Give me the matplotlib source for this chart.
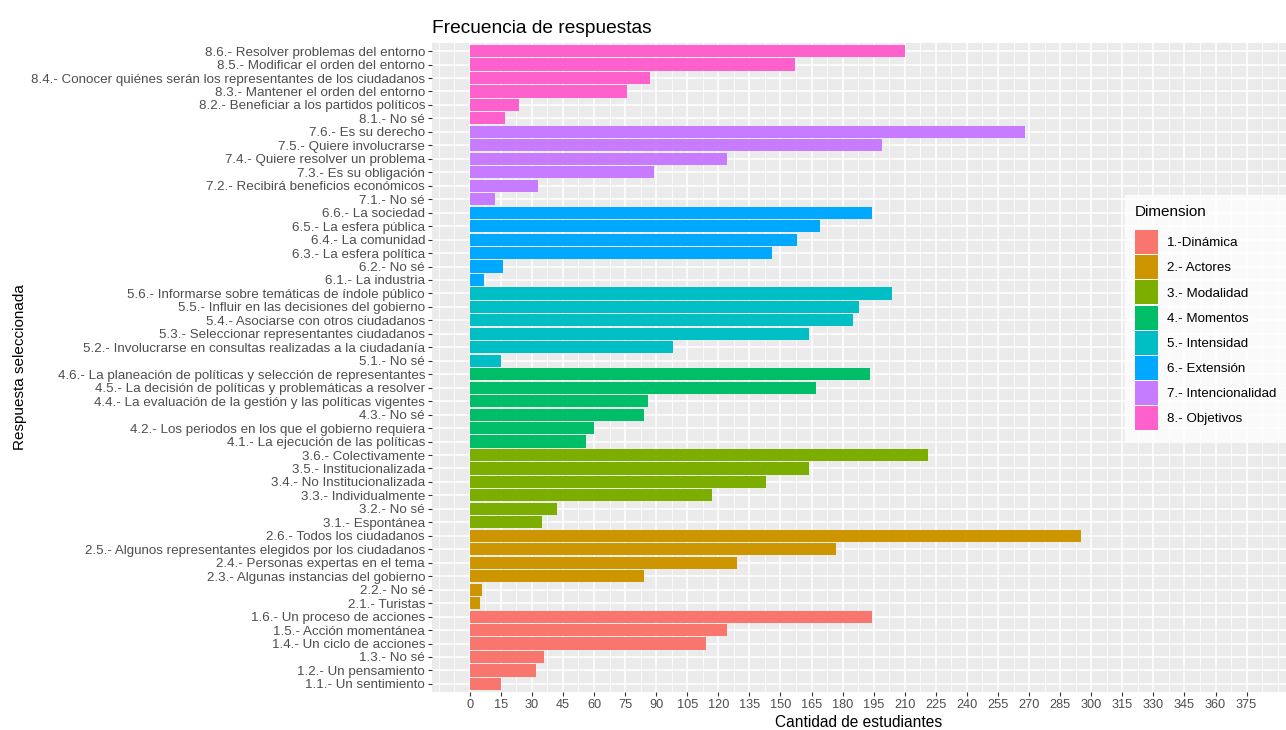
import matplotlib
matplotlib.use('Agg')
import matplotlib.pyplot as plt
from matplotlib.patches import Patch
from matplotlib.ticker import MultipleLocator

# Dimensiones y colores (paleta por defecto de ggplot)
dimensiones = ["1.-Dinámica", "2.- Actores", "3.- Modalidad", "4.- Momentos",
               "5.- Intensidad", "6.- Extensión", "7.- Intencionalidad", "8.- Objetivos"]
colores = ["#F8766D", "#CD9600", "#7CAE00", "#00BE67",
           "#00BFC4", "#00A9FF", "#C77CFF", "#FF61CC"]

# Respuestas de abajo hacia arriba
respuestas = [
    "1.1.- Un sentimiento", "1.2.- Un pensamiento", "1.3.- No sé",
    "1.4.- Un ciclo de acciones", "1.5.- Acción momentánea", "1.6.- Un proceso de acciones",
    "2.1.- Turistas", "2.2.- No sé", "2.3.- Algunas instancias del gobierno",
    "2.4.- Personas expertas en el tema", "2.5.- Algunos representantes elegidos por los ciudadanos",
    "2.6.- Todos los ciudadanos",
    "3.1.- Espontánea", "3.2.- No sé", "3.3.- Individualmente",
    "3.4.- No Institucionalizada", "3.5.- Institucionalizada", "3.6.- Colectivamente",
    "4.1.- La ejecución de las políticas", "4.2.- Los periodos en los que el gobierno requiera",
    "4.3.- No sé", "4.4.- La evaluación de la gestión y las políticas vigentes",
    "4.5.- La decisión de políticas y problemáticas a resolver",
    "4.6.- La planeación de políticas y selección de representantes",
    "5.1.- No sé", "5.2.- Involucrarse en consultas realizadas a la ciudadanía",
    "5.3.- Seleccionar representantes ciudadanos", "5.4.- Asociarse con otros ciudadanos",
    "5.5.- Influir en las decisiones del gobierno",
    "5.6.- Informarse sobre temáticas de índole público",
    "6.1.- La industria", "6.2.- No sé", "6.3.- La esfera política",
    "6.4.- La comunidad", "6.5.- La esfera pública", "6.6.- La sociedad",
    "7.1.- No sé", "7.2.- Recibirá beneficios económicos", "7.3.- Es su obligación",
    "7.4.- Quiere resolver un problema", "7.5.- Quiere involucrarse", "7.6.- Es su derecho",
    "8.1.- No sé", "8.2.- Beneficiar a los partidos políticos",
    "8.3.- Mantener el orden del entorno",
    "8.4.- Conocer quiénes serán los representantes de los ciudadanos",
    "8.5.- Modificar el orden del entorno", "8.6.- Resolver problemas del entorno",
]
cantidades = [
    15, 32, 36, 114, 124, 194,
    5, 6, 84, 129, 177, 295,
    35, 42, 117, 143, 164, 221,
    56, 60, 84, 86, 167, 193,
    15, 98, 164, 185, 188, 204,
    7, 16, 146, 158, 169, 194,
    12, 33, 89, 124, 199, 268,
    17, 24, 76, 87, 157, 210,
]
dim_idx = [int(r.split(".")[0]) - 1 for r in respuestas]

plt.rcParams['font.family'] = ['Liberation Sans', 'DejaVu Sans']

fig = plt.figure(figsize=(12.86, 7.30), dpi=100)
ax = fig.add_axes([432 / 1286, 1 - 692 / 730, 1 - 432 / 1286, (692 - 43) / 730])
ax.set_facecolor("#EBEBEB")

ypos = list(range(len(respuestas)))
ax.barh(ypos, cantidades, height=0.9, color=[colores[i] for i in dim_idx], zorder=3)

ax.set_xlim(-18.2, 394)
ax.set_ylim(-0.6, len(respuestas) - 0.4)
ax.xaxis.set_major_locator(MultipleLocator(15))
ax.xaxis.set_minor_locator(MultipleLocator(7.5))
ax.set_xticks(range(0, 376, 15))
ax.set_yticks(ypos)
ax.set_yticklabels(respuestas)

ax.grid(which="major", color="white", linewidth=1.1, zorder=1)
ax.grid(which="minor", axis="x", color="white", linewidth=0.55, zorder=1)
ax.set_axisbelow(True)
for s in ax.spines.values():
    s.set_visible(False)

ax.tick_params(axis="y", which="major", labelsize=9.6)
ax.tick_params(axis="x", which="major", labelsize=9.2)
ax.tick_params(axis="both", which="major", labelcolor="#4D4D4D",
               color="#333333", length=3, width=0.8, pad=2)
ax.tick_params(axis="both", which="minor", length=0)

ax.set_xlabel("Cantidad de estudiantes", fontsize=11.2, labelpad=3)
ax.set_ylabel("Respuesta seleccionada", fontsize=11, labelpad=3)
ax.set_title("Frecuencia de respuestas", fontsize=13.8, loc="left", pad=7)

handles = [Patch(facecolor=c, edgecolor="none") for c in colores]
leg = fig.legend(handles, dimensiones, title="Dimension", loc="upper left",
                 bbox_to_anchor=(1125 / 1286, 1 - 195 / 730), frameon=True,
                 fancybox=False, fontsize=9.6, title_fontsize=11,
                 handlelength=1.75, handleheight=2.4, labelspacing=0.08,
                 handletextpad=0.65, borderpad=0.75, borderaxespad=0)
leg.get_frame().set_facecolor("white")
leg.get_frame().set_edgecolor("white")
leg._legend_box.align = "left"
leg._legend_box.sep = 8

fig.savefig("out.png", dpi=100)
